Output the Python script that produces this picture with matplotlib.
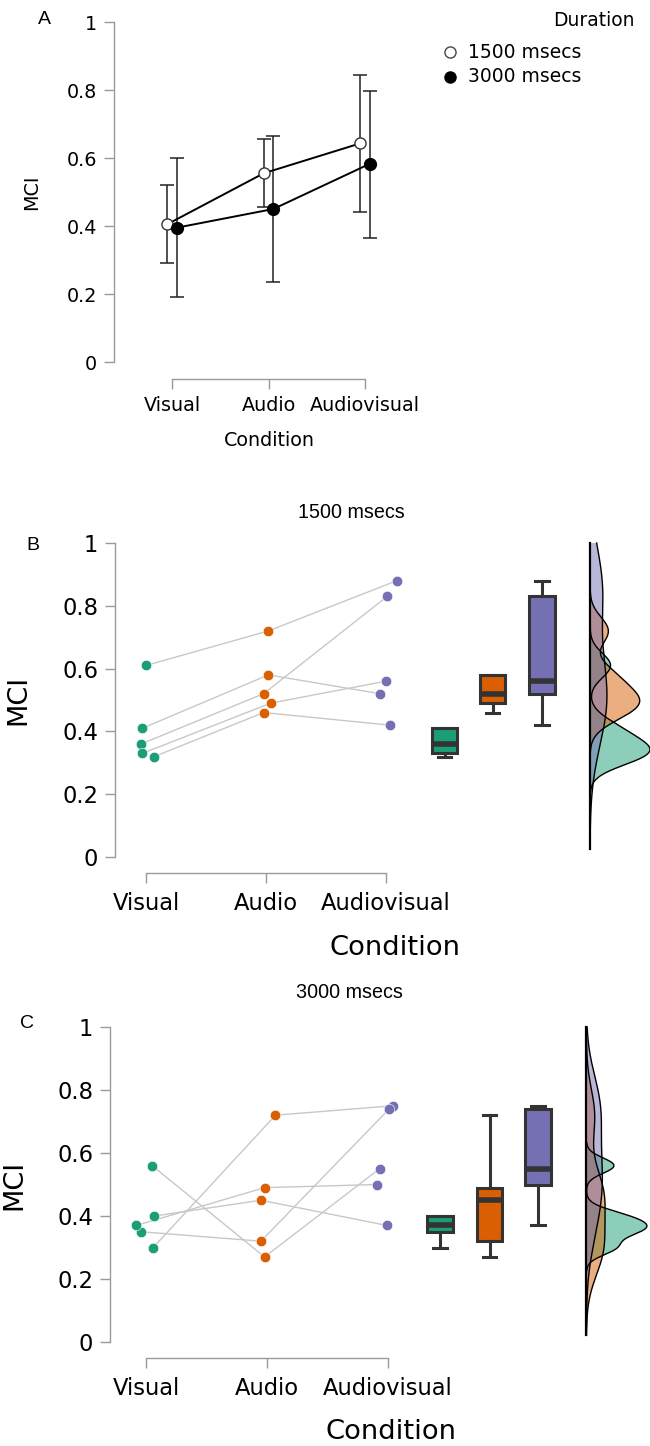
import numpy as np
import matplotlib
matplotlib.use("Agg")
import matplotlib.pyplot as plt

W, H = 650, 1446

conditions = ["Visual", "Audio", "Audiovisual"]

# panel A: means and error bar limits per duration
mean_1500 = [0.405, 0.555, 0.643]
lo_1500 = [0.29, 0.455, 0.44]
hi_1500 = [0.52, 0.655, 0.845]
mean_3000 = [0.395, 0.45, 0.583]
lo_3000 = [0.19, 0.235, 0.365]
hi_3000 = [0.60, 0.665, 0.797]

# panels B/C: one row per participant (Visual, Audio, Audiovisual)
mci_1500 = [
    [0.61, 0.72, 0.88],
    [0.41, 0.58, 0.52],
    [0.36, 0.52, 0.83],
    [0.33, 0.49, 0.56],
    [0.32, 0.46, 0.42],
]
mci_3000 = [
    [0.56, 0.27, 0.55],
    [0.30, 0.72, 0.75],
    [0.35, 0.32, 0.74],
    [0.37, 0.49, 0.50],
    [0.40, 0.45, 0.37],
]

# horizontal jitter of the raw points
jit_1500 = [
    [0.00, 0.02, 0.09],
    [-0.03, 0.02, -0.05],
    [-0.04, -0.02, 0.01],
    [-0.03, 0.04, 0.00],
    [0.07, -0.02, 0.03],
]
jit_3000 = [
    [0.05, -0.02, -0.07],
    [0.06, 0.07, 0.04],
    [-0.04, -0.05, 0.01],
    [-0.08, -0.02, -0.09],
    [0.07, -0.05, -0.01],
]

colors = ["#1b9e77", "#d95f02", "#7570b3"]
spine_col = "#9a9a9a"
tick_font = "DejaVu Sans"
head_font = "Liberation Sans"


def add_axes_px(left, top, right, bottom):
    return fig.add_axes([left / W, 1 - bottom / H, (right - left) / W, (bottom - top) / H])


def style_axes(ax, out_pt, fs, pad):
    for s in ["top", "right"]:
        ax.spines[s].set_visible(False)
    for s in ["left", "bottom"]:
        ax.spines[s].set_color(spine_col)
        ax.spines[s].set_linewidth(1.0)
    ax.spines["left"].set_bounds(0, 1)
    ax.spines["bottom"].set_bounds(1, 3)
    ax.spines["bottom"].set_position(("outward", out_pt))
    ax.set_ylim(0, 1)
    ax.set_yticks([0, 0.2, 0.4, 0.6, 0.8, 1])
    ax.set_yticklabels(["0", "0.2", "0.4", "0.6", "0.8", "1"])
    ax.set_xticks([1, 2, 3])
    ax.set_xticklabels(conditions)
    ax.tick_params(length=7, width=1.0, color=spine_col, labelsize=fs, pad=5)
    ax.tick_params(axis="x", pad=pad)
    for lab in ax.get_xticklabels() + ax.get_yticklabels():
        lab.set_family(tick_font)
    ax.patch.set_alpha(0)


def kde_nrd0(vals):
    x = np.asarray(vals, float)
    n = len(x)
    iqr = np.subtract(*np.percentile(x, [75, 25]))
    bw = 0.9 * min(x.std(ddof=1), iqr / 1.34) * n ** -0.2
    lo = max(0.0, x.min() - 3 * bw)
    hi = min(1.0, x.max() + 3 * bw)
    grid = np.linspace(lo, hi, 400)
    d = np.exp(-0.5 * ((grid[:, None] - x[None, :]) / bw) ** 2).sum(1)
    d /= n * bw * np.sqrt(2 * np.pi)
    return grid, d


def raincloud(ax, data, jit, box_pos, dens_pos):
    data = np.asarray(data)
    jit = np.asarray(jit)
    # participant lines
    for row, j in zip(data, jit):
        ax.plot(np.arange(1, 4) + j, row, color="#c8c8c8", lw=1.0, zorder=2)
    for k in range(3):
        ax.plot(k + 1 + jit[:, k], data[:, k], "o", ms=7.5, color=colors[k],
                mec="white", mew=0.4, zorder=3, clip_on=False)
    # boxes
    bp = ax.boxplot([data[:, k] for k in range(3)], positions=box_pos, widths=0.21,
                    patch_artist=True, showfliers=False, manage_ticks=False,
                    whis=1.5)
    for k, b in enumerate(bp["boxes"]):
        b.set_facecolor(colors[k])
        b.set_edgecolor("#333333")
        b.set_linewidth(2.2)
    for el in bp["whiskers"] + bp["caps"]:
        el.set_color("#333333")
        el.set_linewidth(2.2)
    for cap in bp["caps"]:
        mid = cap.get_xdata().mean()
        cap.set_xdata([mid - 0.055, mid + 0.055])
    for med in bp["medians"]:
        med.set_color("#333333")
        med.set_linewidth(4)
    # half densities
    dens = [kde_nrd0(data[:, k]) for k in range(3)]
    scale = 0.5 / max(d.max() for _, d in dens)
    for k, (g, d) in enumerate(dens):
        ax.fill_betweenx(g, dens_pos, dens_pos + d * scale, facecolor=colors[k],
                         alpha=0.5, edgecolor="none", zorder=4, clip_on=False)
        ax.plot(dens_pos + d * scale, g, color="black", lw=1.0, zorder=5, clip_on=False)
    g_lo = min(g.min() for g, _ in dens)
    g_hi = max(g.max() for g, _ in dens)
    ax.plot([dens_pos, dens_pos], [g_lo, g_hi], color="black", lw=1.6, zorder=6,
            clip_on=False)


fig = plt.figure(figsize=(W / 100, H / 100), dpi=100)

# ---- panel A: means with error bars
axA = add_axes_px(114, 22, 414, 362)
style_axes(axA, 12.2, 13.8, 5)
xA = np.arange(1, 4)
axA.set_xlim(1 - 58 / 96.5, 1 - 58 / 96.5 + 300 / 96.5)
axA.errorbar(xA - 0.05, mean_1500,
             yerr=[np.subtract(mean_1500, lo_1500), np.subtract(hi_1500, mean_1500)],
             fmt="none", ecolor="#222222", elinewidth=1.1, capsize=5, capthick=1.1, zorder=2)
axA.errorbar(xA + 0.05, mean_3000,
             yerr=[np.subtract(mean_3000, lo_3000), np.subtract(hi_3000, mean_3000)],
             fmt="none", ecolor="#222222", elinewidth=1.1, capsize=5, capthick=1.1, zorder=2)
axA.plot(xA - 0.05, mean_1500, "-o", color="black", lw=1.4, ms=8, mfc="white",
         mec="#333333", mew=1.0, zorder=3)
axA.plot(xA + 0.05, mean_3000, "-o", color="black", lw=1.4, ms=8.5, mfc="black",
         mec="black", zorder=3)
axA.set_ylabel("MCI", fontsize=13.8, family=tick_font)
axA.yaxis.set_label_coords(-(114 - 41) / 300, 0.5)
axA.set_xlabel("Condition", fontsize=13.8, family=tick_font)
axA.xaxis.set_label_coords((269 - 114) / 300, -(441 - 362) / 340)
axA.xaxis.label.set_va("center")
fig.text(38 / W, 1 - 20 / H, "A", fontsize=14, family=head_font, ha="left", va="center")

# legend
fig.text(635 / W, 1 - 20 / H, "Duration", fontsize=13.5, family=tick_font, ha="right", va="center")
leg_ax = fig.add_axes([0, 0, 1, 1])
leg_ax.set_xlim(0, W)
leg_ax.set_ylim(H, 0)
leg_ax.axis("off")
leg_ax.plot([450], [52], "o", ms=8, mfc="white", mec="#444444", mew=1.0)
leg_ax.plot([450], [77], "o", ms=8, mfc="black", mec="black")
leg_ax.text(468, 52, "1500 msecs", fontsize=13.5, family=tick_font, va="center")
leg_ax.text(468, 77, "3000 msecs", fontsize=13.5, family=tick_font, va="center")

# ---- panel B: 1500 msecs
axB = add_axes_px(115, 543, 650, 857)
style_axes(axB, 11.5, 16.3, 7)
axB.set_xlim(1 - 31 / 120, 1 - 31 / 120 + 535 / 120)
raincloud(axB, mci_1500, jit_1500, [3.49, 3.89, 4.30], 4.70)
axB.set_ylabel("MCI", fontsize=19.5, family=tick_font)
axB.yaxis.set_label_coords(-(115 - 31) / 535, 0.5)
axB.set_xlabel("Condition", fontsize=19.7, family=tick_font)
axB.xaxis.set_label_coords((395 - 115) / 535, -(948 - 857) / 314)
axB.xaxis.label.set_va("center")
fig.text(351 / W, 1 - 512 / H, "1500 msecs", fontsize=14.2, family=head_font,
         ha="center", va="center")
fig.text(26 / W, 1 - 546 / H, "B", fontsize=14, family=head_font, ha="left", va="center")

# ---- panel C: 3000 msecs
axC = add_axes_px(110, 1027, 650, 1342)
style_axes(axC, 11.5, 16.3, 7)
axC.set_xlim(1 - 36 / 121, 1 - 36 / 121 + 540 / 121)
raincloud(axC, mci_3000, jit_3000, [3.43, 3.84, 4.24], 4.64)
axC.set_ylabel("MCI", fontsize=19.5, family=tick_font)
axC.yaxis.set_label_coords(-(110 - 27) / 540, 0.5)
axC.set_xlabel("Condition", fontsize=19.7, family=tick_font)
axC.xaxis.set_label_coords((391 - 110) / 540, -(1432 - 1342) / 315)
axC.xaxis.label.set_va("center")
fig.text(349 / W, 1 - 993 / H, "3000 msecs", fontsize=14.2, family=head_font,
         ha="center", va="center")
fig.text(20 / W, 1 - 1023 / H, "C", fontsize=14, family=head_font, ha="left", va="center")

fig.savefig("out.png", dpi=100)
